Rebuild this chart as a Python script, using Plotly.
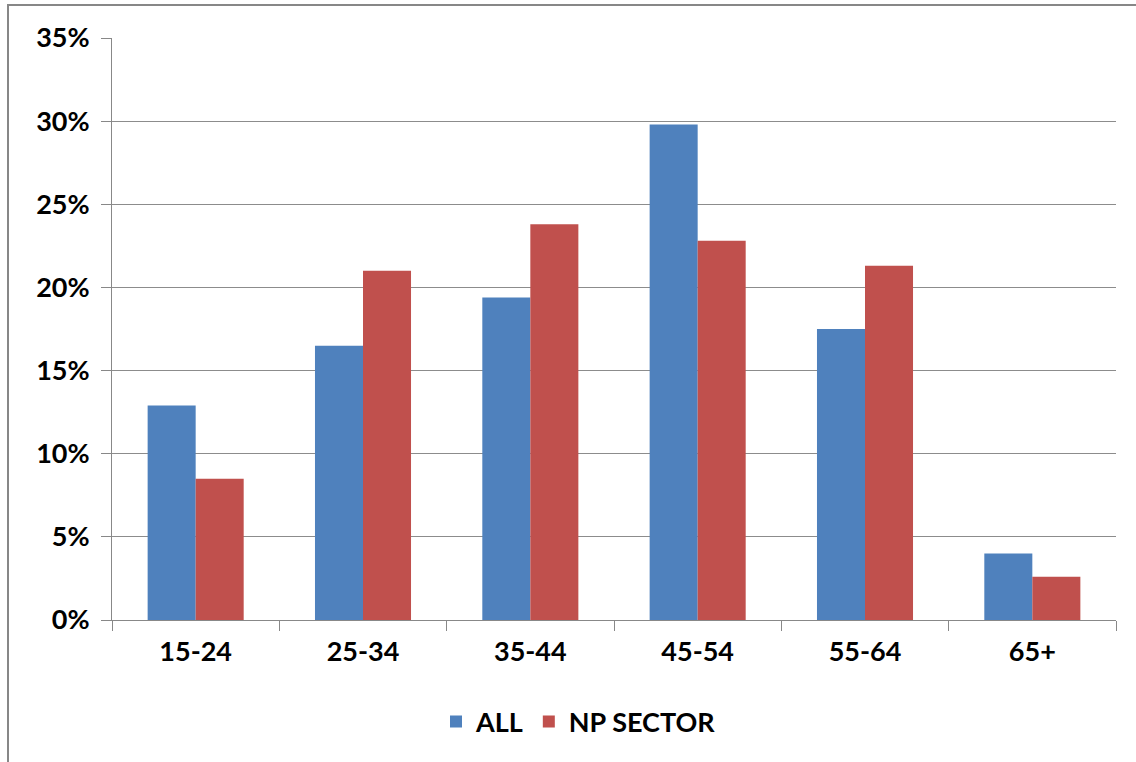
import plotly.graph_objects as go

categories = ["15-24", "25-34", "35-44", "45-54", "55-64", "65+"]
all_vals = [12.9, 16.5, 19.4, 29.8, 17.5, 4.0]
np_sector = [8.5, 21.0, 23.8, 22.8, 21.3, 2.6]
tick_vals = [0, 5, 10, 15, 20, 25, 30, 35]
tick_text = ["0%", "5%", "10%", "15%", "20%", "25%", "30%", "35%"]

FONT = "Lato"
FS = 27
W, H = 1136, 762
L, R, T, B = 112, 20, 38, 142
pw, ph = W - L - R, H - T - B

fig = go.Figure()
fig.add_trace(go.Bar(x=categories, y=all_vals, name="ALL", marker=dict(color="#4F81BD", line=dict(width=0))))
fig.add_trace(go.Bar(x=categories, y=np_sector, name="NP SECTOR", marker=dict(color="#C0504D", line=dict(width=0))))

fig.update_layout(
    width=W, height=H,
    margin=dict(l=L, r=R, t=T, b=B),
    paper_bgcolor="white", plot_bgcolor="white",
    barmode="group", bargap=0.426, bargroupgap=0,
    font=dict(family=FONT, size=FS, color="black"),
    showlegend=True,
    legend=dict(orientation="h", x=(436 - L) / pw, xanchor="left", y=-(722 - 620) / ph, yanchor="middle",
                font=dict(family=FONT, size=FS, color="black", weight="bold"),
                itemwidth=30, tracegroupgap=0, itemsizing="constant"),
    xaxis=dict(showgrid=False, showline=True, linecolor="#888888", linewidth=1,
               ticks="outside", tickson="boundaries", ticklen=10, tickcolor="#888888",
               ticklabelstandoff=8,
               tickfont=dict(family=FONT, size=FS, color="black", weight="bold")),
    yaxis=dict(range=[0, 35], tickvals=tick_vals, ticktext=tick_text,
               showgrid=True, gridcolor="#8c8c8c", gridwidth=1,
               showline=True, linecolor="#888888", linewidth=1,
               ticks="outside", ticklen=10, tickcolor="#888888",
               zeroline=False, ticklabelstandoff=6,
               tickfont=dict(family=FONT, size=FS, color="black", weight="bold")),
)

# outer chart frame
fig.add_shape(type="rect", xref="paper", yref="paper",
              x0=(8 - L) / pw, x1=(1160 - L) / pw,
              y0=-(790 - 620) / ph, y1=(620 - 5) / ph,
              line=dict(color="#878787", width=2), layer="below")

fig.write_html("out.html", config={"displayModeBar": False},
               post_script="document.body.style.margin='0px';")
